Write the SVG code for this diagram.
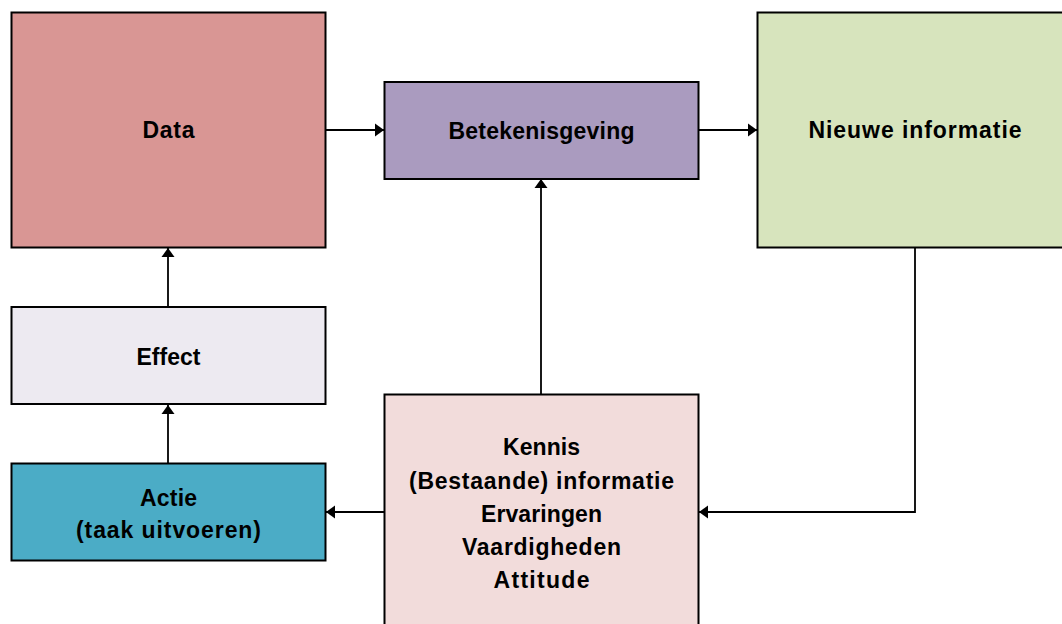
<svg xmlns="http://www.w3.org/2000/svg" width="1062" height="624" viewBox="0 0 1062 624">
<style>
.box{stroke:#000;stroke-width:2}
.lbl{font-family:"Liberation Sans",Arial,sans-serif;font-weight:700;font-size:23px;fill:#000;text-anchor:middle}
.con{fill:none;stroke:#000;stroke-width:1.8;marker-end:url(#arr)}
</style>
<defs>
<marker id="arr" markerUnits="userSpaceOnUse" markerWidth="10" markerHeight="14" refX="9" refY="7" orient="auto">
<path d="M0,0.5 L9,7 L0,13.5 z" fill="#000"/>
</marker>
</defs>
<rect width="1062" height="624" fill="#fff"/>
<g id="connectors">
<path class="con" d="M326,130 L384,130"/>
<path class="con" d="M699,130 L757,130"/>
<path class="con" d="M541,394 L541,179"/>
<path class="con" d="M168,306 L168,248"/>
<path class="con" d="M168,463 L168,405"/>
<path class="con" d="M384,512 L326,512"/>
<path class="con" d="M915,248 L915,512 L699,512"/>
</g>
<g id="data">
<rect class="box" x="11.5" y="12.5" width="314" height="235" fill="#D99694"/>
<text class="lbl" x="168.5" y="138" textLength="52" lengthAdjust="spacing">Data</text>
</g>
<g id="betekenisgeving">
<rect class="box" x="384.5" y="82" width="314" height="97" fill="#AA9BBF"/>
<text class="lbl" x="541.5" y="139" textLength="186" lengthAdjust="spacing">Betekenisgeving</text>
</g>
<g id="nieuwe-informatie">
<rect class="box" x="757.5" y="12.5" width="310" height="235" fill="#D7E4BD"/>
<text class="lbl" x="915" y="138" textLength="213" lengthAdjust="spacing">Nieuwe informatie</text>
</g>
<g id="effect">
<rect class="box" x="11.5" y="307" width="314" height="97" fill="#EDEAF1"/>
<text class="lbl" x="168.5" y="365" textLength="64" lengthAdjust="spacing">Effect</text>
</g>
<g id="actie">
<rect class="box" x="11.5" y="463.5" width="314" height="97" fill="#4BACC6"/>
<text class="lbl" x="168.5" y="506" textLength="57" lengthAdjust="spacing">Actie</text>
<text class="lbl" x="168.5" y="538" textLength="185" lengthAdjust="spacing">(taak uitvoeren)</text>
</g>
<g id="kennis">
<rect class="box" x="384.5" y="394.5" width="314" height="240" fill="#F2DCDB"/>
<text class="lbl" x="541.5" y="455" textLength="77" lengthAdjust="spacing">Kennis</text>
<text class="lbl" x="541.5" y="489" textLength="265" lengthAdjust="spacing">(Bestaande) informatie</text>
<text class="lbl" x="541.5" y="522" textLength="121" lengthAdjust="spacing">Ervaringen</text>
<text class="lbl" x="541.5" y="555" textLength="159" lengthAdjust="spacing">Vaardigheden</text>
<text class="lbl" x="541.5" y="588" textLength="96" lengthAdjust="spacing">Attitude</text>
</g>
</svg>
